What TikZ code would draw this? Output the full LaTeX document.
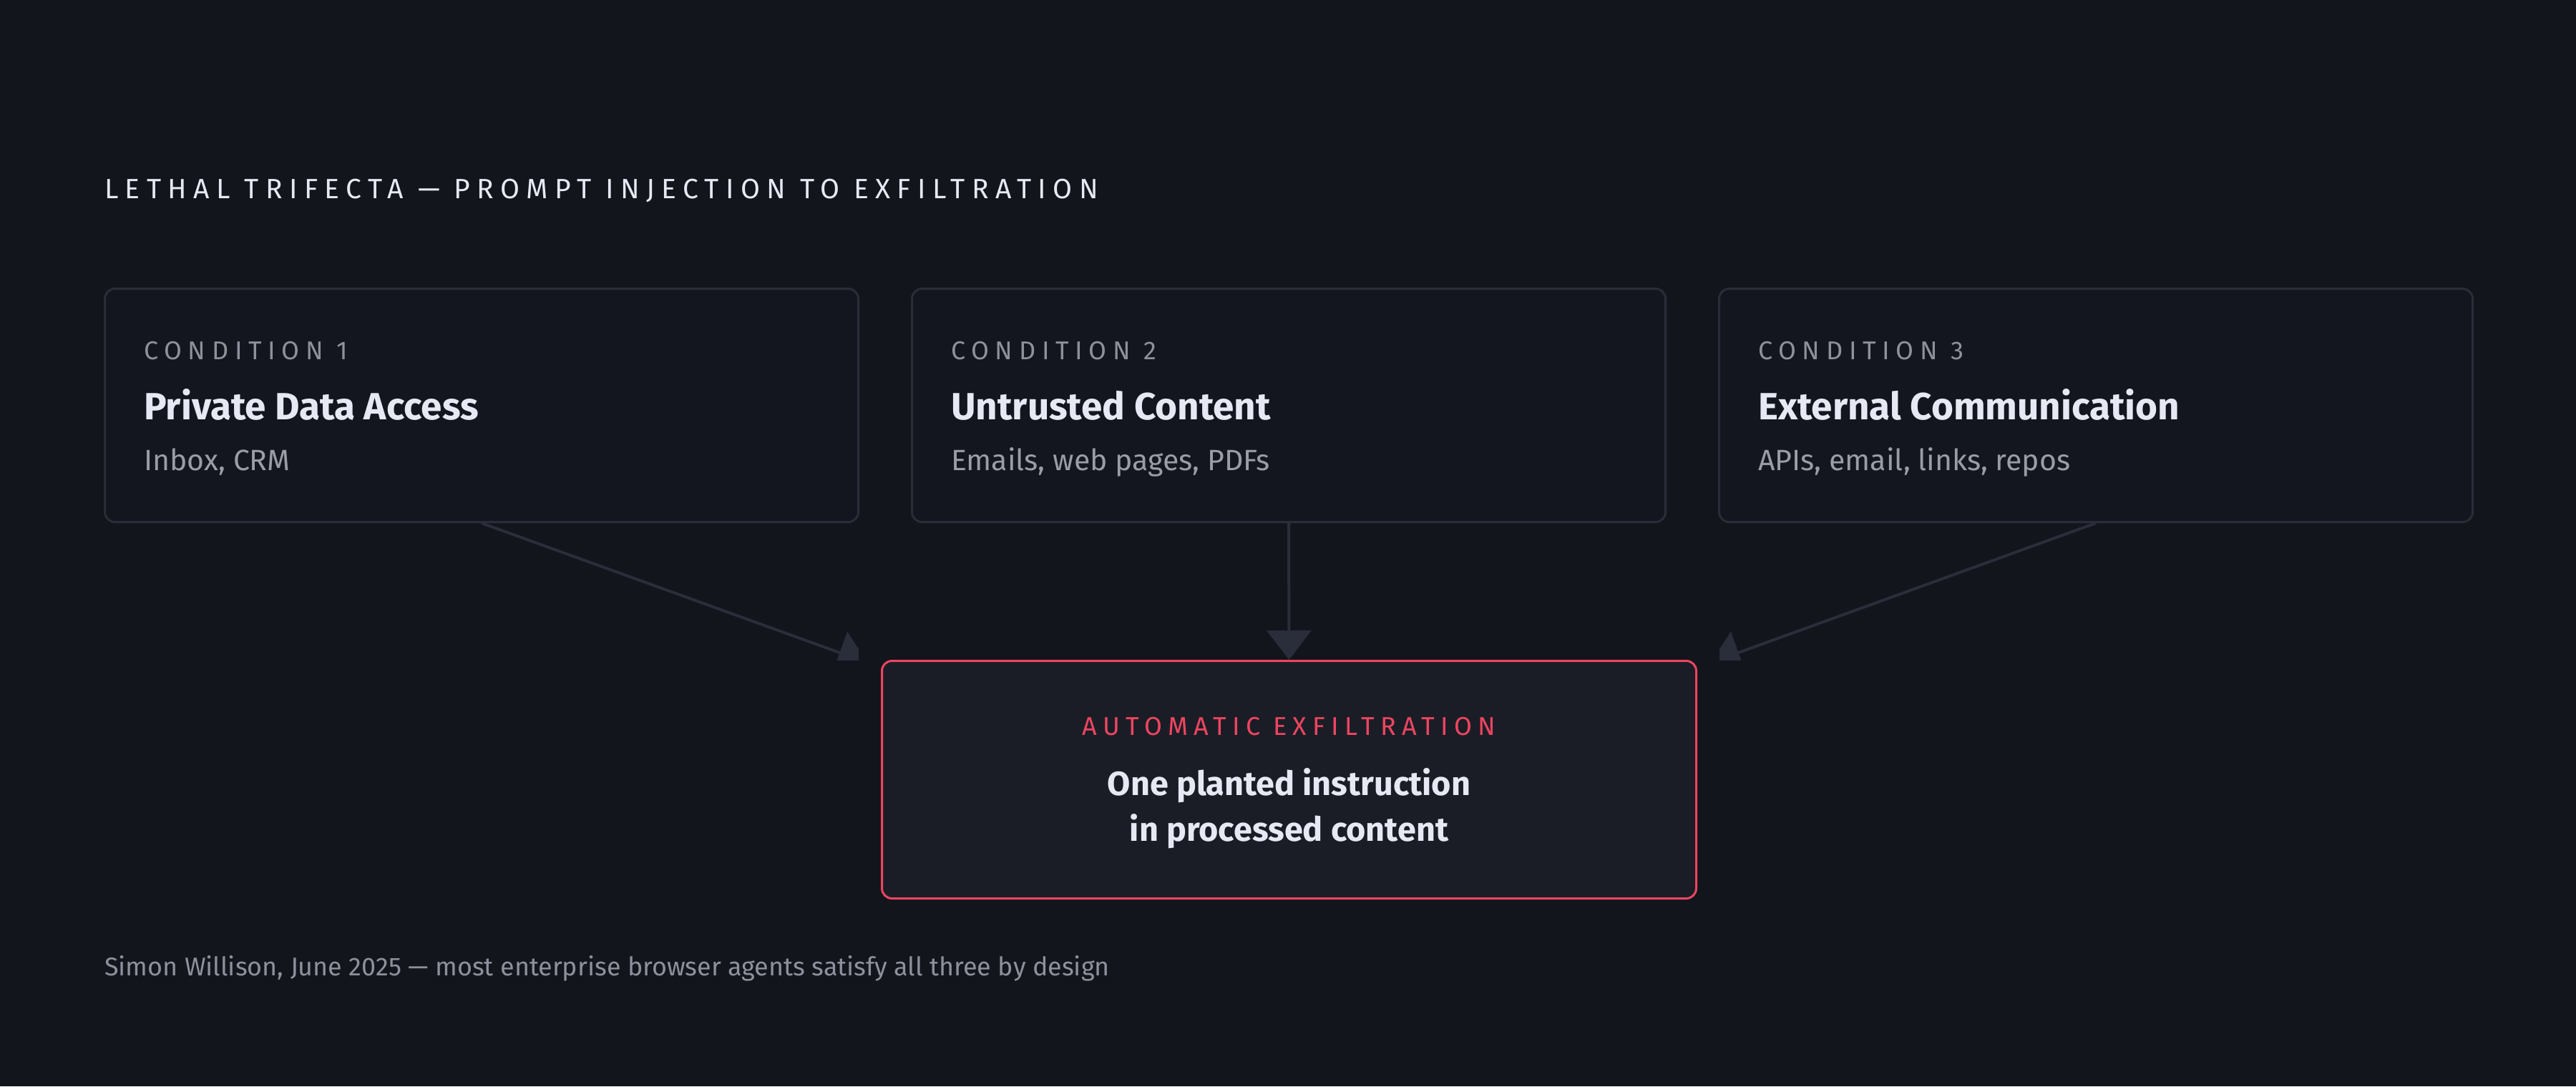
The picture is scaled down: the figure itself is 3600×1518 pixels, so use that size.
\documentclass[tikz,border=0pt]{standalone}
\usepackage{fontspec}
\setmainfont{Fira Sans}
\newfontfamily\spaced[LetterSpace=23]{Fira Sans}
\newfontfamily\wider[LetterSpace=24.1]{Fira Sans}
\usetikzlibrary{arrows.meta,calc}
\definecolor{bg}{HTML}{12151C}
\definecolor{cardfill}{HTML}{13161E}
\definecolor{cardline}{HTML}{2A2D38}
\definecolor{arrowc}{HTML}{2A2D3A}
\definecolor{botfill}{HTML}{1B1D26}
\definecolor{accent}{HTML}{EE4560}
\definecolor{hitext}{HTML}{E6E8F3}
\definecolor{kicktext}{HTML}{8E919C}
\definecolor{subtext}{HTML}{9A9DA8}
\begin{document}
\begin{tikzpicture}[x=1pt,y=-1pt,
  card/.style={draw=cardline, line width=3pt, rounded corners=14pt, fill=cardfill,
    minimum width=1053pt, minimum height=326pt, anchor=north west, inner sep=0pt},
  botbox/.style={draw=accent, line width=3pt, rounded corners=14pt, fill=botfill,
    minimum width=1138pt, minimum height=332pt, anchor=north west, inner sep=0pt},
  lab/.style={inner sep=0pt, anchor=base west},
  titletext/.style={lab, font=\wider\fontsize{39}{39}\selectfont, text=hitext},
  kicker/.style={lab, font=\wider\fontsize{36}{36}\selectfont, text=kicktext},
  head/.style={lab, font=\bfseries\fontsize{53}{53}\selectfont, text=hitext},
  sub/.style={lab, font=\fontsize{41}{41}\selectfont, text=subtext},
  foot/.style={lab, font=\fontsize{35.9}{35.9}\selectfont, text=kicktext},
  botline/.style={inner sep=0pt, anchor=base, font=\bfseries\fontsize{46.8}{46.8}\selectfont, text=hitext},
  conn/.style={draw=arrowc, line width=4pt, -{Triangle[width=62pt,length=41pt]}}
]
\useasboundingbox (0,0) rectangle (3600,1518);
\fill[bg] (0,0) rectangle (3600,1518);

\node[titletext] (title) at (146,277) {LETHAL TRIFECTA — PROMPT INJECTION TO EXFILTRATION};

\node[card] (c1) at (145,402) {};
\node[card] (c2) at (1273,402) {};
\node[card] (c3) at (2401,402) {};

\foreach \c/\n/\h/\s in {c1/1/Private Data Access/{Inbox, CRM},
                         c2/2/Untrusted Content/{Emails, web pages, PDFs},
                         c3/3/External Communication/{APIs, email, links, repos}}{
  \node[kicker] (\c k) at ($(\c.north west)+(56,100)$) {CONDITION \n};
  \node[head] (\c h) at ($(\c.north west)+(56,184)$) {\h};
  \node[sub] (\c s) at ($(\c.north west)+(56,255)$) {\s};
}

\node[botbox] (bot) at (1231,922) {};
\node[inner sep=0pt, anchor=base, font=\spaced\fontsize{36}{36}\selectfont, text=accent]
  (botk) at ($(bot.north)+(0,105)$) {AUTOMATIC EXFILTRATION};
\node[botline] (botl1) at ($(bot.north)+(0,189)$) {One planted instruction};
\node[botline] (botl2) at ($(bot.north)+(0,253)$) {in processed content};

\draw[conn] (c2.south) -- (bot.north);
\begin{scope}
  \clip (0,0) rectangle ($(bot.north west)+(-31,0)$);
  \draw[conn] (c1.south) -- ($(bot.north west)+(-19,4)$);
\end{scope}
\begin{scope}
  \clip ($(bot.north east)+(31,0)$) rectangle (3600,0);
  \draw[conn] (c3.south) -- ($(bot.north east)+(19,4)$);
\end{scope}

\node[foot] (foot) at (146,1363) {Simon Willison, June 2025 — most enterprise browser agents satisfy all three by design};
\end{tikzpicture}
\end{document}
